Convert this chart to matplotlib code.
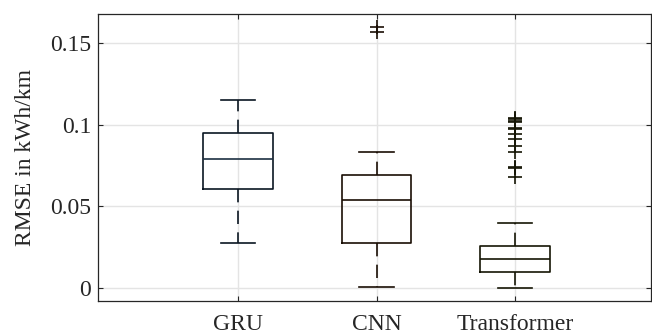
import matplotlib
matplotlib.use("Agg")
import matplotlib.pyplot as plt

# ---- data ----
categories = ["GRU", "CNN", "Transformer"]
q1 = [0.0604, 0.0276, 0.0095]
median = [0.0789, 0.0537, 0.0178]
q3 = [0.0948, 0.0694, 0.0256]
whisker_low = [0.0276, 0.0004, 0.0000]
whisker_high = [0.1149, 0.0832, 0.0399]
fliers_gru = []
fliers_cnn = [0.1603, 0.1569]
fliers_transformer = [0.1044, 0.1036, 0.1026, 0.1016, 0.0983, 0.0973, 0.0942,
                      0.0912, 0.0872, 0.0832, 0.0743, 0.0737, 0.0682]
yticks = [0, 0.05, 0.1, 0.15]
ytick_labels = ["0", "0.05", "0.1", "0.15"]

fliers = [fliers_gru, fliers_cnn, fliers_transformer]
line_colors = ["#0b1622", "#1a0e04", "#151505"]
median_colors = ["#1d3042", "#1a0e04", "#151505"]

plt.rcParams["font.family"] = ["Liberation Serif", "DejaVu Serif"]
plt.rcParams["font.size"] = 17

fig = plt.figure(figsize=(6.52, 3.35), dpi=100)
ax = fig.add_axes([98 / 652, 1 - 301 / 335, (651 - 98) / 652, (301 - 14.3) / 335])

stats = []
for i, name in enumerate(categories):
    stats.append(dict(label=name, q1=q1[i], med=median[i], q3=q3[i],
                      whislo=whisker_low[i], whishi=whisker_high[i],
                      fliers=fliers[i]))

positions = [1, 2, 3]
art = ax.bxp(stats, positions=positions, widths=0.5, capwidths=0.25,
             showfliers=True, patch_artist=False,
             boxprops=dict(linewidth=1.2),
             whiskerprops=dict(linewidth=1.2, linestyle=(0, (8, 5))),
             capprops=dict(linewidth=1.2),
             medianprops=dict(linewidth=1.2),
             flierprops=dict(marker="+", markersize=10, markeredgewidth=1.2,
                             linestyle="none"))

for i in range(len(categories)):
    c = line_colors[i]
    art["boxes"][i].set_color(c)
    art["medians"][i].set_color(median_colors[i])
    for w in art["whiskers"][2 * i:2 * i + 2]:
        w.set_color(c)
    for cp in art["caps"][2 * i:2 * i + 2]:
        cp.set_color(c)
    art["fliers"][i].set_markeredgecolor(c)

ax.set_xlim(-0.011, 3.982)
ax.set_ylim(-0.0082, 0.1678)
ax.set_xticks(positions)
ax.set_xticklabels(categories)
ax.set_yticks(yticks)
ax.set_yticklabels(ytick_labels)
ax.set_ylabel("RMSE in kWh/km", labelpad=10, color="#262626")

ax.grid(True, color="#e4e4e4", linewidth=1.0)
ax.set_axisbelow(True)
for s in ax.spines.values():
    s.set_color("#262626")
    s.set_linewidth(0.9)
ax.tick_params(direction="in", length=3.6, width=0.8, color="#262626",
               top=True, right=True, labelcolor="#262626")
ax.tick_params(axis="x", pad=9.5)
ax.tick_params(axis="y", pad=5)

fig.savefig("out.png", dpi=100)
